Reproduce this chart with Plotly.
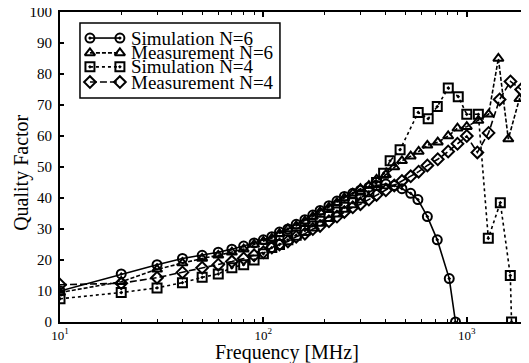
import plotly.graph_objects as go

# Simulation N=6
f_sim6 = [10, 20, 30, 40, 50, 60, 70, 80, 90, 100, 110, 120, 132, 145, 160, 175, 190, 210, 230, 250,
          275, 300, 330, 360, 400, 440, 480, 530, 575, 640, 716, 820, 880]
q_sim6 = [10, 15.5, 18.5, 20.5, 21.5, 22.5, 23.5, 24.5, 25.5, 26.5, 27.5, 29, 30, 31.5, 33, 34.5, 36, 37.5, 39, 40.5,
          41.5, 42.5, 43.5, 44, 44.5, 44, 43, 41.5, 39.5, 34, 26.5, 14, 0]

# Measurement N=6
f_mea6 = [10, 20, 30, 40, 50, 60, 70, 80, 90, 100, 110, 120, 132, 145, 160, 175, 190, 210, 230, 250,
          275, 300, 330, 360, 400, 440, 480, 530, 580, 640, 720, 810, 900, 1000, 1140, 1280, 1430, 1600, 1815, 2000]
q_mea6 = [9.5, 13, 17, 19, 20.5, 21.5, 22.5, 23.5, 25, 26, 27, 28.5, 30, 31, 32.5, 34, 35.5, 37, 38.5, 40,
          41.5, 43, 44, 46, 47.5, 50, 52, 53.5, 55, 57, 58, 60, 62.5, 63, 65, 67, 85, 59, 72, 70]

# Simulation N=4
f_sim4 = [10, 20, 30, 40, 50, 60, 70, 80, 90, 100, 110, 120, 132, 145, 160, 175, 190, 210, 230, 250,
          275, 300, 330, 360, 390, 420, 470, 577, 646, 716, 811, 908, 1000, 1140, 1276, 1462, 1637, 1660]
q_sim4 = [7.5, 9.5, 11, 12.7, 14.4, 15.5, 17.5, 18.5, 20, 22, 24, 25, 26.5, 28, 29.5, 31, 32.5, 34, 35.5, 37,
          38.5, 40, 42, 45, 48, 52, 55.6, 67.6, 65.6, 69.5, 75.5, 72.7, 67, 67, 27, 38.5, 15, 0]

# Measurement N=4
f_mea4 = [10, 20, 30, 40, 50, 60, 70, 80, 90, 100, 110, 120, 132, 145, 160, 175, 190, 210, 230, 250,
          275, 300, 330, 360, 400, 440, 480, 530, 580, 640, 720, 810, 900, 1000, 1127, 1280, 1450, 1640, 1850, 2000]
q_mea4 = [12, 12.5, 14.3, 16, 17.5, 18.5, 19.5, 20.5, 21.5, 22.5, 24, 25, 26, 27.5, 28.5, 30, 31, 32.5, 34, 35.5,
          37, 38, 39.5, 41, 42.5, 44, 45.5, 47, 48.5, 50.5, 52.5, 55, 57.5, 60, 54.7, 61, 71.8, 77.6, 75, 73]

names = ["Simulation N=6", "Measurement N=6", "Simulation N=4", "Measurement N=4"]
xtick_vals = [10, 100, 1000]
xtick_text = ["10<sup>1</sup>", "10<sup>2</sup>", "10<sup>3</sup>"]
ytick_vals = [0, 10, 20, 30, 40, 50, 60, 70, 80, 90, 100]
x_title = "Frequency [MHz]"
y_title = "Quality Factor"

series = [
    (f_sim6, q_sim6, "circle-open-dot", "solid"),
    (f_mea6, q_mea6, "triangle-up-open", "4px,2px"),
    (f_sim4, q_sim4, "square-open-dot", "dot"),
    (f_mea4, q_mea4, "diamond-open", "7px,3px"),
]

FF = "Liberation Serif"

fig = go.Figure()
for (fx, qy, sym, dash), nm in zip(series, names):
    fig.add_trace(go.Scatter(
        x=fx, y=qy, name=nm, mode="lines+markers", showlegend=False,
        line=dict(color="black", width=1.6, dash=dash),
        marker=dict(symbol=sym, size=9, color="black", line=dict(width=2, color="black")),
    ))

# legend (drawn on an overlay axis spanning the plot area, 0..1)
leg_x = [0.064, 0.128]
leg_rows = [0.916, 0.868, 0.823, 0.774]
for (fx, qy, sym, dash), nm, ry in zip(series, names, leg_rows):
    fig.add_trace(go.Scatter(
        x=leg_x, y=[ry, ry], xaxis="x2", yaxis="y2", mode="lines+markers", showlegend=False,
        line=dict(color="black", width=1.6, dash=dash),
        marker=dict(symbol=sym, size=9, color="black", line=dict(width=2, color="black")),
        hoverinfo="skip",
    ))
    fig.add_annotation(x=0.150, y=ry, xref="paper", yref="paper", text=nm, showarrow=False,
                       xanchor="left", yanchor="middle", borderpad=0,
                       font=dict(family=FF, size=19, color="black"))

fig.add_shape(type="rect", xref="paper", yref="paper", x0=0.0427, x1=0.470, y0=0.7226, y1=0.9645,
              line=dict(color="black", width=1.5), fillcolor="rgba(0,0,0,0)")

fig.add_annotation(x=0.485, y=-0.058, xref="paper", yref="paper", text=x_title, showarrow=False,
                   xanchor="center", yanchor="top", borderpad=0,
                   font=dict(family=FF, size=20, color="black"))
fig.add_annotation(x=-0.082, y=0.48, xref="paper", yref="paper", text=y_title, showarrow=False,
                   textangle=-90, xanchor="center", yanchor="middle", borderpad=0,
                   font=dict(family=FF, size=20, color="black"))

fig.update_layout(
    width=521, height=355,
    margin=dict(l=52, r=1, t=4, b=41, autoexpand=False),
    paper_bgcolor="white", plot_bgcolor="white",
    font=dict(family=FF, color="black", size=14),
    showlegend=False,
    xaxis=dict(
        type="log", range=[1, 3.301], automargin=False,
        tickvals=xtick_vals, ticktext=xtick_text,
        ticks="inside", ticklen=5, tickwidth=1.5, tickcolor="black",
        minor=dict(ticks="inside", ticklen=3, tickwidth=1, tickcolor="black",
                   tickvals=[20, 30, 40, 50, 60, 70, 80, 90, 200, 300, 400, 500, 600, 700, 800, 900]),
        showline=True, linecolor="black", linewidth=2, mirror="ticks",
        showgrid=False, zeroline=False, ticklabeloverflow="allow",
        tickfont=dict(size=13, family=FF, color="black"),
    ),
    yaxis=dict(
        range=[0, 100], tickvals=ytick_vals, automargin=False,
        ticks="inside", ticklen=4, tickwidth=1.5, tickcolor="black",
        showline=True, linecolor="black", linewidth=2, mirror="ticks",
        showgrid=False, zeroline=False, ticklabeloverflow="allow",
        tickfont=dict(size=15, family=FF, color="black"),
        ticklabelstandoff=3,
    ),
    xaxis2=dict(overlaying="x", range=[0, 1], visible=False, showgrid=False, zeroline=False, automargin=False),
    yaxis2=dict(overlaying="y", range=[0, 1], visible=False, showgrid=False, zeroline=False, automargin=False),
)

fig.write_html("out.html")
